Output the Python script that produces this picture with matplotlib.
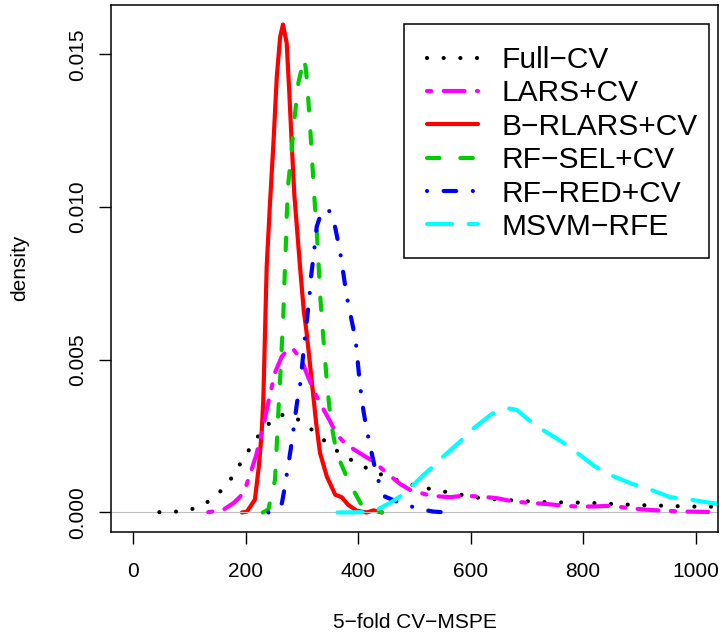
import matplotlib
matplotlib.use("Agg")
import matplotlib.pyplot as plt
from matplotlib.lines import Line2D
from matplotlib.patches import Rectangle

plt.rcParams['font.family'] = ['Liberation Sans', 'DejaVu Sans']

# density curves (x = 5-fold CV-MSPE, y = density)
full_x = [46, 76, 104, 130, 153, 172, 187, 203, 219, 237, 262, 286, 309, 332, 354, 378, 403, 430, 457, 484,
          513, 541, 570, 599, 627, 657, 686, 716, 745, 774, 803, 832, 861, 890, 919, 949, 977, 1007, 1036, 1070]
full_y = [0.00001, 0.00003, 0.00011, 0.00032, 0.00066, 0.00106, 0.00151, 0.00198, 0.00243, 0.00285,
          0.00320, 0.00313, 0.00284, 0.00248, 0.00212, 0.00182, 0.00156, 0.00132, 0.00113, 0.00096,
          0.00083, 0.00072, 0.00063, 0.00052, 0.00045, 0.00042, 0.00038, 0.00035, 0.00033, 0.00033,
          0.00032, 0.00030, 0.00027, 0.00025, 0.00023, 0.00022, 0.00020, 0.00019, 0.00019, 0.00018]

lars_x = [133, 160, 178, 190, 201, 210, 218, 231, 241, 252, 264, 277, 284, 299, 308, 320, 332, 350, 362, 379,
          403, 427, 451, 474, 492, 528, 563, 587, 617, 646, 676, 706, 735, 765, 795, 824, 848, 884, 913, 943,
          978, 1020, 1060]
lars_y = [0.00001, 0.00009, 0.00031, 0.00052, 0.0009, 0.0014, 0.00185, 0.00282, 0.0037, 0.00459,
          0.00511, 0.00538, 0.00535, 0.005, 0.00456, 0.00402, 0.00358, 0.00298, 0.00254, 0.00222,
          0.00194, 0.00167, 0.00129, 0.00094, 0.00074, 0.00055, 0.0005, 0.00055, 0.00052, 0.00047,
          0.00036, 0.00031, 0.00028, 0.00022, 0.00019, 0.0002, 0.00022, 0.00014, 0.00009, 0.00006,
          0.00003, 0.00002, 0.00001]

brl_x = [193, 202, 216, 223, 228, 231, 234, 237, 242.5, 249, 255, 261, 266, 272.6, 277.3, 281.5, 286.2, 296.3,
         303, 308, 317, 325, 332, 344, 359, 370.5, 382, 397, 415, 427, 442]
brl_y = [0, 0.00003, 0.00042, 0.0015, 0.0026, 0.00369, 0.00587, 0.00805, 0.0100, 0.01209,
         0.01427, 0.01558, 0.01598, 0.01537, 0.01373, 0.01209, 0.0104, 0.00805, 0.0066, 0.0059,
         0.00434, 0.00293, 0.00194, 0.00118, 0.00058, 0.0005, 0.00025, 0.00006, 0.0, 0.00007, 0.0]

sel_x = [230, 240, 251.8, 254.8, 257.7, 260.7, 263.7, 266.6, 268.4, 270.8, 272.6, 275.5, 281.5, 286.2, 293.3,
         303.5, 307, 311.1, 314.6, 318.2, 321.7, 326, 328.9, 331.9, 336.7, 343.8, 348.4, 353.8, 361.6, 376.4,
         391.1, 408.9, 420.9, 432.8, 442]
sel_y = [0.0, 0.0001, 0.00107, 0.00216, 0.00325, 0.00429, 0.00538, 0.00647, 0.00745, 0.0086,
         0.0097, 0.01078, 0.01187, 0.01286, 0.01406, 0.01488, 0.01449, 0.01351, 0.01253, 0.01144,
         0.01035, 0.00925, 0.00827, 0.00718, 0.00598, 0.00434, 0.00347, 0.00271, 0.00194, 0.00129,
         0.00074, 0.00014, 0.00012, 0.00009, 0.0]

rfred_x = [240, 255, 264, 267, 275, 280, 286, 291, 296, 300, 304, 308, 313, 316, 321, 326, 333, 340, 347, 353,
           358.6, 367.5, 373.3, 379.4, 395.4, 403, 408.9, 415, 423.9, 432.8, 447.5, 479, 510, 533.5, 557]
rfred_y = [0.0, 0.0001, 0.0003, 0.0006, 0.0015, 0.0021, 0.0029, 0.0036, 0.0041, 0.0048,
           0.00555, 0.0062, 0.00705, 0.00773, 0.00849, 0.00936, 0.00975, 0.00993, 0.00992, 0.0097,
           0.00936, 0.00855, 0.00784, 0.00709, 0.00563, 0.00417, 0.00336, 0.00271, 0.00194, 0.00118,
           0.00052, 0.00028, 0.00011, 0.00003, 0.0]

msvm_x = [363, 409, 433, 456, 474, 495, 516, 533.5, 551, 581, 602, 637, 664, 682, 702.5, 726, 762, 786, 821, 848,
          886.5, 913, 955, 984, 1029, 1060]
msvm_y = [0.0, 0.00001, 0.00009, 0.00031, 0.00052, 0.00085, 0.00123, 0.00151, 0.00183, 0.00232,
          0.00271, 0.00322, 0.00342, 0.00336, 0.00304, 0.00273, 0.00232, 0.002, 0.00151, 0.00123,
          0.00094, 0.0008, 0.0005, 0.00044, 0.00031, 0.00024]

labels = ['Full\u2212CV', 'LARS+CV', 'B\u2212RLARS+CV', 'RF\u2212SEL+CV', 'RF\u2212RED+CV', 'MSVM\u2212RFE']
xticks = [0, 200, 400, 600, 800, 1000]
yticks = [0.0, 0.005, 0.010, 0.015]
ytick_labels = ['0.000', '0.005', '0.010', '0.015']

# R-like line types (dash lengths in units of line width, round caps)
styles = {
    'Full\u2212CV': dict(color='black', dashes=(0.01, 3.99)),
    'LARS+CV': dict(color='#FF00FF', dashes=(1, 3, 5, 3)),
    'B\u2212RLARS+CV': dict(color='#FF0000', dashes=None),
    'RF\u2212SEL+CV': dict(color='#00CD00', dashes=(3, 5)),
    'RF\u2212RED+CV': dict(color='#0000FF', dashes=(0.01, 3.99, 3, 4)),
    'MSVM\u2212RFE': dict(color='#00FFFF', dashes=(6, 4)),
}
series = {
    'Full\u2212CV': (full_x, full_y),
    'LARS+CV': (lars_x, lars_y),
    'B\u2212RLARS+CV': (brl_x, brl_y),
    'RF\u2212SEL+CV': (sel_x, sel_y),
    'RF\u2212RED+CV': (rfred_x, rfred_y),
    'MSVM\u2212RFE': (msvm_x, msvm_y),
}
LW = 3.0

W, H = 723, 636
fig = plt.figure(figsize=(W / 100, H / 100), dpi=100)
ax = fig.add_axes([111 / W, 1 - 532 / H, (718 - 111) / W, (532 - 5) / H])


def draw(name, **kw):
    st = styles[name]
    x, y = series[name]
    ln, = ax.plot(x, y, color=st['color'], lw=LW, solid_capstyle='round',
                  dash_capstyle='round', solid_joinstyle='round', **kw)
    if st['dashes'] is not None:
        ln.set_dashes(st['dashes'])
    return ln


# first curve, then zero line, then the rest (as plot() + lines() in R)
draw('B\u2212RLARS+CV')
ax.axhline(0, color='#BEBEBE', lw=0.8)
for name in ['Full\u2212CV', 'LARS+CV', 'RF\u2212SEL+CV', 'RF\u2212RED+CV', 'MSVM\u2212RFE']:
    draw(name)

ymax = max(brl_y)
ax.set_xlim(-40, 1040)
ax.set_ylim(-0.04 * ymax, ymax * 1.04)

ax.set_xticks(xticks)
ax.set_xticklabels([str(t) for t in xticks])
ax.set_yticks(yticks)
ax.set_yticklabels(ytick_labels, rotation=90, va='center')
ax.tick_params(axis='both', direction='out', length=8.5, width=1.0, labelsize=15, color='black')
ax.tick_params(axis='x', pad=13)
ax.tick_params(axis='y', pad=9)
for s in ax.spines.values():
    s.set_linewidth(1.1)
    s.set_color('black')

fig.text(414.5 / W, 1 - 622 / H, '5\u2212fold CV\u2212MSPE', ha='center', va='center', fontsize=15)
fig.text(20 / W, 1 - 268 / H, 'density', ha='center', va='center', rotation=90, fontsize=15)

handles = []
for name in labels:
    st = styles[name]
    h = Line2D([0], [0], color=st['color'], lw=LW, solid_capstyle='round', dash_capstyle='round')
    if st['dashes'] is not None:
        h.set_dashes(st['dashes'])
    handles.append(h)

# legend box drawn separately so its padding matches the R legend
box = Rectangle((404 / W, 1 - 258 / H), (709 - 404) / W, (258 - 24) / H, transform=fig.transFigure,
                facecolor='white', edgecolor='black', lw=1.1, zorder=5)
fig.add_artist(box)
leg = fig.legend(handles, labels, loc='upper left', bbox_to_anchor=(427 / W, 1 - 46 / H),
                 fontsize=21.5, frameon=False, borderpad=0, labelspacing=0.18, handlelength=1.7,
                 handletextpad=0.8, borderaxespad=0)
leg.set_zorder(6)

fig.savefig('out.png', dpi=100)
